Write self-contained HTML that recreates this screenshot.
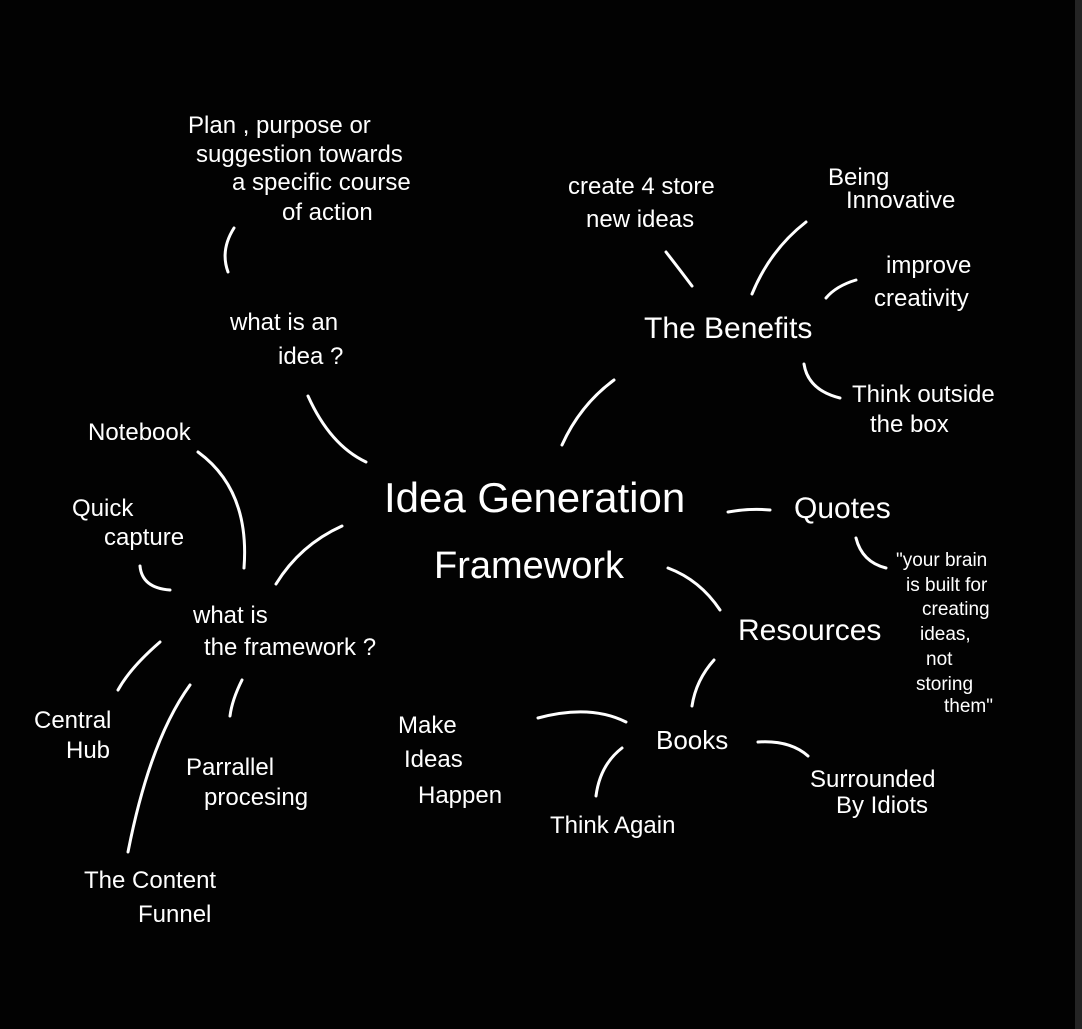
<!DOCTYPE html>
<html><head><meta charset="utf-8"><style>
html,body{margin:0;padding:0;background:#020202;}
body{width:1082px;height:1029px;overflow:hidden;position:relative;}
.strip{position:absolute;left:1075px;top:0;width:7px;height:1029px;background:#242424;}
svg{position:absolute;left:0;top:0;}
text{fill:#fff;font-family:"Liberation Sans",sans-serif;}
path{stroke:#fff;stroke-width:3;fill:none;stroke-linecap:round;}
</style></head><body>
<div class="strip"></div>
<svg width="1075" height="1029" viewBox="0 0 1075 1029">
<g font-size="24">
<text x="188" y="133">Plan , purpose or</text>
<text x="196" y="162">suggestion towards</text>
<text x="232" y="190">a specific course</text>
<text x="282" y="220">of action</text>
<text x="230" y="330">what is an</text>
<text x="278" y="364">idea ?</text>
<text x="88" y="440">Notebook</text>
<text x="72" y="516">Quick</text>
<text x="104" y="545">capture</text>
<text x="193" y="623">what is</text>
<text x="204" y="655">the framework ?</text>
<text x="34" y="728">Central</text>
<text x="66" y="758">Hub</text>
<text x="186" y="775">Parrallel</text>
<text x="204" y="805">procesing</text>
<text x="84" y="888">The Content</text>
<text x="138" y="922">Funnel</text>
<text x="568" y="194">create 4 store</text>
<text x="586" y="227">new ideas</text>
<text x="828" y="185">Being</text>
<text x="846" y="208">Innovative</text>
<text x="886" y="273">improve</text>
<text x="874" y="306">creativity</text>
<text x="644" y="338" font-size="30">The Benefits</text>
<text x="852" y="402">Think outside</text>
<text x="870" y="432">the box</text>
<text x="794" y="518" font-size="30">Quotes</text>
<text x="738" y="640" font-size="30">Resources</text>
<text x="656" y="749" font-size="26">Books</text>
<text x="398" y="733">Make</text>
<text x="404" y="767">Ideas</text>
<text x="418" y="803">Happen</text>
<text x="550" y="833">Think Again</text>
<text x="810" y="787">Surrounded</text>
<text x="836" y="813">By Idiots</text>
</g>
<g font-size="19">
<text x="896" y="566">"your brain</text>
<text x="906" y="591">is built for</text>
<text x="922" y="615">creating</text>
<text x="920" y="640">ideas,</text>
<text x="926" y="665">not</text>
<text x="916" y="690">storing</text>
<text x="944" y="712">them"</text>
</g>
<text x="384" y="512" font-size="42">Idea Generation</text>
<text x="434" y="578" font-size="38">Framework</text>
<path d="M234 228 Q220 250 228 272"/>
<path d="M308 396 Q330 445 366 462"/>
<path d="M198 452 Q250 490 244 568"/>
<path d="M140 566 Q142 588 170 590"/>
<path d="M276 584 Q300 545 342 526"/>
<path d="M160 642 Q130 668 118 690"/>
<path d="M242 680 Q232 700 230 716"/>
<path d="M190 685 Q150 740 128 852"/>
<path d="M562 445 Q580 405 614 380"/>
<path d="M666 252 Q680 270 692 286"/>
<path d="M806 222 Q770 250 752 294"/>
<path d="M856 280 Q836 286 826 298"/>
<path d="M804 364 Q808 390 840 398"/>
<path d="M728 512 Q750 508 770 510"/>
<path d="M856 538 Q862 562 886 568"/>
<path d="M668 568 Q700 580 720 610"/>
<path d="M714 660 Q696 680 692 706"/>
<path d="M538 718 Q590 704 626 722"/>
<path d="M622 748 Q600 765 596 796"/>
<path d="M758 742 Q790 740 808 756"/>
</svg>
</body></html>
